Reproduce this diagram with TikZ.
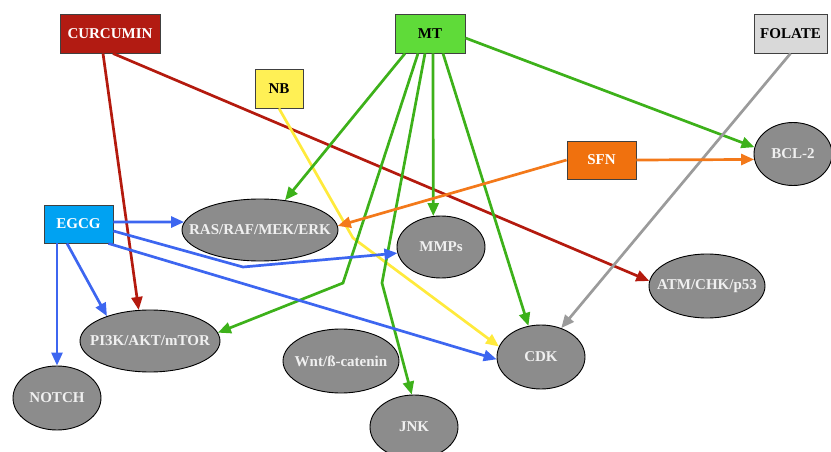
\documentclass[tikz,border=0pt]{standalone}
\usepackage{fontspec}
\setmainfont{Liberation Serif}
\usetikzlibrary{shapes.geometric,arrows.meta,calc}
\definecolor{curF}{HTML}{B21B12}
\definecolor{nbF}{HTML}{FFF055}
\definecolor{mtF}{HTML}{5FDB39}
\definecolor{folF}{HTML}{D9D9D9}
\definecolor{sfnF}{HTML}{F0710E}
\definecolor{egF}{HTML}{00A2F2}
\definecolor{redL}{HTML}{B41A0E}
\definecolor{yelL}{HTML}{FFEA3C}
\definecolor{grnL}{HTML}{3DB11A}
\definecolor{gryL}{HTML}{9B9B9B}
\definecolor{orgL}{HTML}{F3791A}
\definecolor{bluL}{HTML}{3D66F0}
\definecolor{ellF}{HTML}{8C8C8C}
\newcommand{\ptxt}[1]{\makebox[0pt][c]{#1}}
\tikzset{
  agent/.style={draw=black!75, line width=0.9pt, minimum height=39pt, inner sep=0pt,
    font=\fontsize{15}{16}\selectfont\bfseries},
  path/.style={ellipse, draw=black, line width=0.9pt, fill=ellF, inner sep=0pt,
    text=white!94!black, font=\fontsize{15}{16}\selectfont\bfseries},
  link/.style={line width=2.7pt, -{Triangle[length=13pt,width=11pt]}}
}
\begin{document}
\begin{tikzpicture}[x=1pt,y=-1pt]
\useasboundingbox (0,0) rectangle (831,452);
% pathway ellipses
\node[path, minimum width=156pt, minimum height=62pt] (ras) at (260,230) {\ptxt{RAS/RAF/MEK/ERK}};
\node[path, minimum width=88pt, minimum height=62pt] (mmps) at (441,247) {\ptxt{MMPs}};
\node[path, minimum width=78pt, minimum height=63pt] (bcl) at (793,154) {\ptxt{BCL-2}};
\node[path, minimum width=116pt, minimum height=64pt] (atm) at (707,286) {\ptxt{ATM/CHK/p53}};
\node[path, minimum width=88pt, minimum height=64pt] (cdk) at (541,357) {\ptxt{CDK}};
\node[path, minimum width=140pt, minimum height=62pt] (pi3k) at (150,341) {\ptxt{PI3K/AKT/mTOR}};
\node[path, minimum width=88pt, minimum height=64pt] (notch) at (57,398) {\ptxt{NOTCH}};
\node[path, minimum width=116pt, minimum height=64pt] (wnt) at (341,361) {\ptxt{Wnt/ß-catenin}};
\node[path, minimum width=88pt, minimum height=64pt] (jnk) at (414,427) {\ptxt{JNK}};
% agents
\node[agent, fill=curF, text=white, minimum width=100pt] (cur) at (110,33.5) {CURCUMIN};
\node[agent, fill=nbF, text=black, minimum width=48pt] (nb) at (279,88.5) {NB};
\node[agent, fill=mtF, text=black, minimum width=70pt] (mt) at (430,33.5) {MT};
\node[agent, fill=folF, text=black, minimum width=73pt] (fol) at (790.5,33.5) {FOLATE};
\node[agent, fill=sfnF, text=white, minimum width=69pt, minimum height=38pt] (sfn) at (601.5,160) {SFN};
\node[agent, fill=egF, text=white, minimum width=69pt, minimum height=38pt] (egcg) at (78.5,224) {EGCG};
% bend points
\coordinate (b1) at (353,238);
\coordinate (b2) at (343,283);
\coordinate (b3) at (382,283);
\coordinate (b4) at (243,267);
% curcumin
\draw[link, redL] ([xshift=-7pt]cur.south) -- (pi3k.110);
\draw[link, redL] ([xshift=3pt]cur.south) -- (atm.175);
% NB
\draw[link, yelL] (nb.south) -- (b1) -- (cdk.166);
% MT
\draw[link, grnL] ([xshift=-25pt]mt.south) -- (ras.50);
\draw[link, grnL] ([xshift=-12pt]mt.south) -- (b2) -- (pi3k.7);
\draw[link, grnL] ([xshift=-5pt]mt.south) -- (b3) -- (jnk.94);
\draw[link, grnL] ([xshift=3pt]mt.south) -- (mmps.104);
\draw[link, grnL] ([xshift=13pt]mt.south) -- (cdk.112);
\draw[link, grnL] ([yshift=-4.5pt]mt.east) -- (bcl.170);
% folate
\draw[link, gryL] (fol.south) -- (cdk.55);
% SFN
\draw[link, orgL] (sfn.east) -- (bcl.188);
\draw[link, orgL] (sfn.west) -- (ras.3);
% EGCG
\draw[link, bluL] ([yshift=2pt]egcg.east) -- (ras.174);
\draw[link, bluL] ([yshift=-7pt]egcg.east) -- (b4) -- (mmps.188);
\draw[link, bluL] ([xshift=-5pt]egcg.south east) -- (cdk.183);
\draw[link, bluL] ([xshift=-11.5pt]egcg.south) -- (pi3k.150);
\draw[link, bluL] ([xshift=-21.5pt]egcg.south) -- (notch.north);
\end{tikzpicture}
\end{document}
